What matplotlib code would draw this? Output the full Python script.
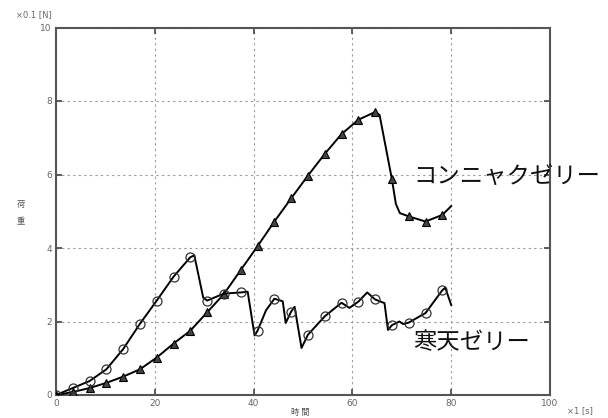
import matplotlib
matplotlib.use("Agg")
import matplotlib.pyplot as plt

# ---- data ----
konnyaku_x = [0, 3.4, 6.8, 10.2, 13.6, 17, 20.4, 23.8, 27.2, 30.6, 34, 37.4, 40.8, 44.2,
              47.6, 51, 54.4, 57.8, 61.2, 64.6, 65.5, 68, 68.8, 69.6, 71.4, 74.8, 78.2, 80]
konnyaku_y = [0, 0.08, 0.19, 0.33, 0.5, 0.7, 1.02, 1.4, 1.75, 2.25, 2.75, 3.4, 4.05, 4.72,
              5.35, 5.97, 6.56, 7.1, 7.49, 7.7, 7.62, 5.87, 5.2, 4.95, 4.86, 4.72, 4.9, 5.14]
konnyaku_marks = [0, 1, 2, 3, 4, 5, 6, 7, 8, 9, 10, 11, 12, 13, 14, 15, 16, 17, 18, 19,
                  21, 24, 25, 26]

kanten_x = [0, 3.4, 6.8, 10.2, 13.6, 17, 20.4, 23.8, 27.2, 28.0, 29.8, 30.6, 34, 37.4, 38.8,
            40.2, 40.8, 42.5, 44.2, 45.9, 46.5, 47.6, 48.3, 49.7, 51, 54.4, 57.8, 59.4, 61.2,
            63, 64.6, 66.5, 67.2, 68, 69.5, 70.3, 71.4, 74.8, 78.2, 78.8, 80]
kanten_y = [0, 0.19, 0.38, 0.7, 1.25, 1.94, 2.57, 3.22, 3.75, 3.8, 2.65, 2.57, 2.76, 2.79, 2.81,
            1.62, 1.75, 2.3, 2.62, 2.55, 1.96, 2.27, 2.4, 1.28, 1.64, 2.14, 2.51, 2.37, 2.54,
            2.79, 2.6, 2.5, 1.77, 1.9, 2.0, 1.93, 1.97, 2.23, 2.85, 2.92, 2.45]
kanten_marks = [0, 1, 2, 3, 4, 5, 6, 7, 8, 11, 12, 13, 16, 18, 21, 24, 25, 26, 28, 30,
                33, 36, 37, 38]

x_ticks = [0, 20, 40, 60, 80, 100]
y_ticks = [0, 2, 4, 6, 8, 10]

label_konnyaku = "コンニャクゼリー"
label_kanten = "寒天ゼリー"

plt.rcParams['font.family'] = ['Noto Sans CJK JP', 'DejaVu Sans']

fig = plt.figure(figsize=(6.08, 4.18), dpi=100)
ax = fig.add_axes([56 / 608, 1 - 395 / 418, 494 / 608, 367.5 / 418])

ax.plot(konnyaku_x, konnyaku_y, color='black', lw=1.4, marker='^', markersize=5.5,
        markerfacecolor='#444444', markeredgecolor='black', markeredgewidth=0.8,
        markevery=konnyaku_marks, zorder=3)
ax.plot(kanten_x, kanten_y, color='black', lw=1.4, marker='o', markersize=6.5,
        markerfacecolor='none', markeredgecolor='#333333', markeredgewidth=0.9,
        markevery=kanten_marks, zorder=3)

ax.set_xlim(0, 100)
ax.set_ylim(0, 10)
ax.set_xticks(x_ticks)
ax.set_yticks(y_ticks)
ax.set_xticklabels([str(t) for t in x_ticks], family=['DejaVu Sans'])
ax.set_yticklabels([str(t) for t in y_ticks], family=['DejaVu Sans'])
ax.tick_params(direction='in', length=4, width=1.2, color='#444444', labelsize=6.5,
               labelcolor='#666666', top=True, right=True, pad=3)
ax.grid(True, color='#999999', linestyle=(0, (2, 3)), linewidth=0.8)
for s in ax.spines.values():
    s.set_color('#555555')
    s.set_linewidth(1.5)

fig.text(413 / 608, 1 - 176 / 418, label_konnyaku, fontsize=16.8, va='center', ha='left',
         color='#111111')
fig.text(413 / 608, 1 - 343 / 418, label_kanten, fontsize=16.8, va='center', ha='left',
         color='#111111')

fig.text(34 / 608, 1 - 15 / 418, "×0.1 [N]", fontsize=6, color='#666666', ha='center',
         va='center', family=['DejaVu Sans'])
fig.text(580 / 608, 1 - 411 / 418, "×1 [s]", fontsize=6, color='#666666', ha='center',
         va='center', family=['DejaVu Sans'])
fig.text(300 / 608, 1 - 412 / 418, "時 間", fontsize=6, color='#555555', ha='center',
         va='center')
fig.text(21 / 608, 1 - 204 / 418, "荷", fontsize=6, color='#555555', ha='center', va='center')
fig.text(21 / 608, 1 - 222 / 418, "重", fontsize=6, color='#555555', ha='center', va='center')

fig.savefig("out.png", dpi=100)
